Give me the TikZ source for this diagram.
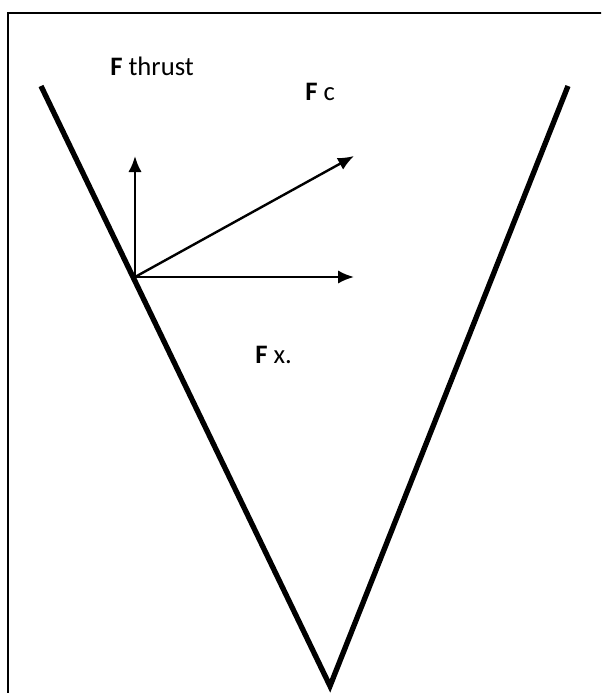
\documentclass[tikz,border=0pt]{standalone}
\usepackage{fontspec}
\setmainfont{Carlito}
\usetikzlibrary{arrows.meta}

\begin{document}
\begin{tikzpicture}[x=0.75pt,y=-0.75pt,>={Latex[length=12pt,width=10pt]},
  force/.style={->,line width=1.8pt},
  lbl/.style={anchor=base west,inner sep=0pt,font=\fontsize{20}{24}\selectfont}]
  \useasboundingbox (0,0) rectangle (601,693);
  \clip (0,0) rectangle (601,693);
  \draw[line width=1.1pt] (8,13) rectangle (620,710);
  % the V
  \coordinate (vl) at (41,86);
  \coordinate (vb) at (330,686);
  \coordinate (vr) at (568,86);
  \draw[line width=4pt] (vl) -- (vb) -- (vr);
  % forces at the contact point
  \coordinate (O) at (135,277);
  \coordinate (thrust) at (135,156);
  \coordinate (cut) at (354,156);
  \coordinate (xdir) at (354,277);
  \draw[force] (O) -- (thrust);
  \draw[force] (O) -- (cut);
  \draw[force] (O) -- (xdir);
  \node[lbl] (Fthrust) at (110,75) {\textbf{F} thrust};
  \node[lbl] (Fc) at (305,100) {\textbf{F} c};
  \node[lbl] (Fx) at (255,363) {\textbf{F} x.};
\end{tikzpicture}
\end{document}
